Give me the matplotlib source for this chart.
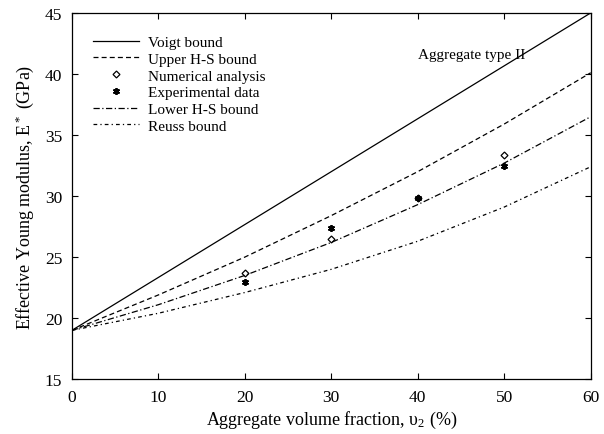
import matplotlib
matplotlib.use('Agg')
from matplotlib import pyplot as plt

plt.rcParams['font.family'] = ['Liberation Serif', 'DejaVu Serif']
plt.rcParams['mathtext.fontset'] = 'custom'
plt.rcParams['mathtext.rm'] = 'Liberation Serif'
plt.rcParams['mathtext.it'] = 'Liberation Serif:italic'

# values
x_voigt = [0, 60]
voigt = [19.0, 45.0]

x_bound = [0, 10, 20, 30, 40, 50, 60]
upper_hs = [19.0, 21.9, 25.0, 28.4, 32.0, 35.9, 40.1]
lower_hs = [19.0, 21.1, 23.5, 26.2, 29.3, 32.7, 36.5]
reuss = [19.0, 20.4, 22.1, 24.0, 26.3, 29.1, 32.4]

x_points = [20, 30, 40, 50]
numerical = [23.7, 26.5, 29.8, 33.4]
experimental = [23.0, 27.4, 29.8, 32.5]

fig = plt.figure(figsize=(6.04, 4.35), dpi=100)
ax = fig.add_axes([0.119, 0.126, 0.859, 0.842])

ax.plot(x_voigt, voigt, color='black', lw=0.9, ls='-', label='Voigt bound')
ax.plot(x_bound, upper_hs, color='black', lw=0.9, ls=(0, (4, 2.5)), label='Upper H-S bound')
ax.plot(x_points, numerical, ls='none', marker='D', ms=3.5, mfc='white', mec='black',
        mew=0.9, label='Numerical analysis')
ax.plot(x_points, experimental, ls='none', marker=(6, 2, 0), ms=5, color='black',
        mew=1.3, label='Experimental data')
ax.plot(x_bound, lower_hs, color='black', lw=0.9, ls=(0, (5, 2, 1, 2)), label='Lower H-S bound')
ax.plot(x_bound, reuss, color='black', lw=0.9, ls=(0, (3, 2.5, 1, 2.5)), label='Reuss bound')

ax.set_xlim(0, 60)
ax.set_ylim(15, 45)
ax.set_xticks(range(0, 61, 10))
ax.set_yticks(range(15, 46, 5))
ax.tick_params(direction='in', top=True, right=True, labelsize=12.5, length=4, width=0.8, pad=7)
for s in ax.spines.values():
    s.set_linewidth(0.9)

ax.set_xlabel('Aggregate volume fraction, υ$_2$ (%)', fontsize=13, labelpad=3)
ax.set_ylabel('Effective Young modulus, E$^*$ (GPa)', fontsize=13, labelpad=6)

ax.text(46.2, 41.6, 'Aggregate type II', fontsize=11, ha='center', va='center')

ax.legend(loc='upper left', frameon=False, fontsize=11, handlelength=3.0,
          handletextpad=0.6, labelspacing=0.2, borderaxespad=0.4,
          bbox_to_anchor=(0.017, 0.972))

fig.savefig('out.png', dpi=100)
